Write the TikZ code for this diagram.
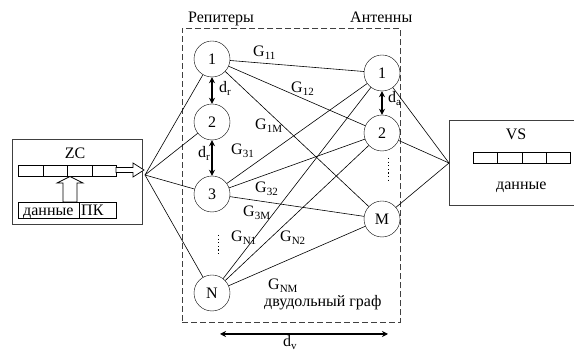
\documentclass[tikz,border=0pt]{standalone}
\usepackage{fontspec}
\setmainfont{Liberation Serif}
\usetikzlibrary{arrows.meta}
\newcommand\sbs[1]{\raisebox{-0.35ex}{\fontsize{11}{11}\selectfont #1}}
\begin{document}
\begin{tikzpicture}[x=1pt,y=-1pt, font=\fontsize{16}{18}\selectfont,
  circ/.style={draw, circle, minimum size=36pt, inner sep=0pt, fill=white},
  lbl/.style={anchor=base west, inner sep=0pt},
  edge/.style={line width=0.6pt},
  dbl/.style={{Stealth[length=6pt,width=6pt]}-{Stealth[length=6pt,width=6pt]}, line width=1.2pt},
  bigbox/.style={draw=black!75, line width=0.9pt, anchor=north west, inner sep=0pt},
  cell/.style={draw, line width=0.6pt, anchor=north west, inner sep=0pt, minimum height=11pt},
  hollow/.style={draw, line width=0.7pt, fill=white}]
\useasboundingbox (0,0) rectangle (574,352);

% dashed bipartite frame
\node[draw=black!75, dashed, dash pattern=on 6pt off 3pt, line width=0.8pt, anchor=north west,
      minimum width=218pt, minimum height=294pt, inner sep=0pt] (frame) at (182,28) {};

% left box ZC
\node[bigbox, minimum width=130pt, minimum height=85pt] (zc) at (12,139) {};
\node[anchor=base, inner sep=0pt] (zct) at (75,159) {ZC};
\foreach \i in {0,1,2,3} {
  \node[cell, minimum width=24.5pt] (zr\i) at ({18+24.5*\i},165) {};
}
\node[cell, minimum width=61pt, minimum height=16pt] (pd) at (18,202) {};
\node[cell, minimum width=37pt, minimum height=16pt] (pk) at (79,202) {};
\node[lbl] (pdt) at (23,216) {данные};
\node[lbl] (pkt) at (81,216) {ПК};
% hollow arrows
\draw[hollow] (116,167.5) -- (133,167.5) -- (133,163) -- (144,170) -- (133,177) -- (133,172.5) -- (116,172.5) -- cycle;
\draw[hollow] (63,202) -- (63,183) -- (57,183) -- (70,176.5) -- (83,183) -- (77,183) -- (77,202) -- cycle;

% right box VS
\node[bigbox, minimum width=135pt, minimum height=85pt] (vs) at (449,120) {};
\node[anchor=base, inner sep=0pt] (vst) at (516,140) {VS};
\foreach \i in {0,1,2,3} {
  \node[cell, minimum width=24.25pt] (vr\i) at ({473+24.25*\i},152) {};
}
\node[lbl] (vsd) at (496,190) {данные};

% hubs
\coordinate (hubL) at (145,175);
\coordinate (hubR) at (449,163);

% repeaters
\node[circ] (r1) at (212,59) {1};
\node[circ] (r2) at (212,122) {2};
\node[circ] (r3) at (212,194) {3};
\node[circ] (rN) at (212,293) {N};
% antennas
\node[circ] (a1) at (382,73) {1};
\node[circ] (a2) at (382,133) {2};
\node[circ] (aM) at (382,219) {M};

% headings
\node[lbl] (hr) at (188,23) {Репитеры};
\node[lbl] (ha) at (350,23) {Антенны};

% hub edges
\foreach \n in {r1,r2,r3,rN} \draw[edge] (hubL) -- (\n);
\foreach \n in {a1,a2,aM} \draw[edge] (\n) -- (hubR);

% bipartite edges
\foreach \r in {r1,r3,rN} {
  \foreach \a in {a1,a2,aM} {
    \draw[edge] (\r) -- (\a);
  }
}

% distance arrows
\draw[dbl] (r1) -- (r2);
\draw[dbl] (r2) -- (r3);
\draw[dbl] (a1) -- (a2);
\coordinate (dvL) at (220,334);
\coordinate (dvR) at (388,334);
\draw[dbl] (dvL) -- (dvR);

\node[lbl] (ldr1) at (219,93) {d\sbs{r}};
\node[lbl] (ldr2) at (198,158) {d\sbs{r}};
\node[lbl] (lda) at (388,103) {d\sbs{a}};
\node[lbl] (ldv) at (283,347) {d\sbs{v}};

% dots
\draw[line width=1pt, dash pattern=on 1.2pt off 2.4pt] (218,235) -- (218,254);
\draw[line width=1pt, dash pattern=on 1.2pt off 2.4pt] (388,158) -- (388,180);

% weights
\node[lbl] (g11) at (253,57) {G\sbs{11}};
\node[lbl] (g12) at (291,93) {G\sbs{12}};
\node[lbl] (g1m) at (255,130) {G\sbs{1M}};
\node[lbl] (g31) at (231,155) {G\sbs{31}};
\node[lbl] (g32) at (255,193) {G\sbs{32}};
\node[lbl] (g3m) at (243,217) {G\sbs{3M}};
\node[lbl] (gn1) at (231,242) {G\sbs{N1}};
\node[lbl] (gn2) at (280,242) {G\sbs{N2}};
\node[lbl] (gnm) at (268,290) {G\sbs{NM}};
\node[lbl] (bip) at (264,307) {двудольный граф};
\end{tikzpicture}
\end{document}
